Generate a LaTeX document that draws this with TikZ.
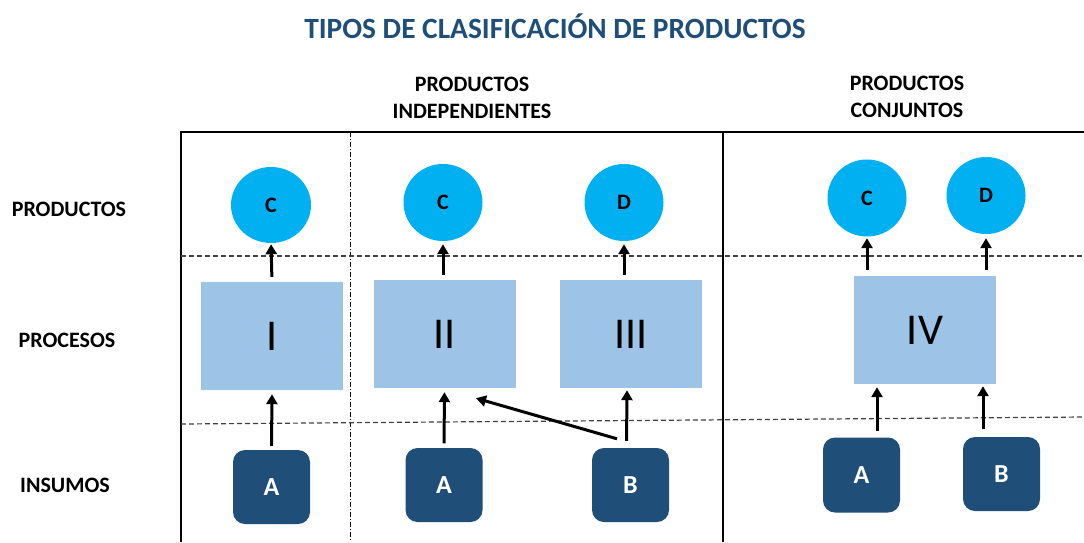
\documentclass[tikz,border=0pt]{standalone}
\usepackage{fontspec}
\setmainfont{Carlito}
\usetikzlibrary{arrows.meta,calc,shapes.geometric}
\definecolor{titleblue}{HTML}{1F4E79}
\definecolor{cyanC}{HTML}{00B0F0}
\definecolor{procB}{HTML}{9DC3E6}
\definecolor{insB}{HTML}{1F4E79}
\definecolor{gridgray}{HTML}{404040}
\begin{document}
\begin{tikzpicture}[x=1pt,y=-1pt,
  lbl/.style={inner sep=0pt, align=center, font=\fontsize{22}{27}\selectfont\bfseries},
  prod/.style={ellipse, fill=cyanC, minimum width=79pt, minimum height=77pt, inner sep=0pt, font=\fontsize{22}{24}\selectfont\bfseries},
  proc/.style={rectangle, fill=procB, minimum width=142pt, minimum height=108pt, inner sep=0pt, font=\fontsize{44}{50}\selectfont},
  ins/.style={rectangle, rounded corners=12pt, fill=insB, minimum width=77pt, minimum height=74pt, inner sep=0pt, text=white, font=\fontsize{26}{30}\selectfont\bfseries},
  arr/.style={line width=3pt, -{Triangle[width=11pt,length=10pt]}},
  frame/.style={line width=2pt, black},
  gridline/.style={line width=1.2pt, gridgray, dash pattern=on 5pt off 3pt},
  dashdotline/.style={line width=0.9pt, black, dash pattern=on 5pt off 2pt on 1pt off 2pt}
]
\useasboundingbox (0,0) rectangle (1084,542);

% title and headers
\node[inner sep=0pt, text=titleblue, font=\fontsize{29.4}{34}\selectfont\bfseries] (title) at (555,26) {TIPOS DE CLASIFICACIÓN DE PRODUCTOS};
\node[lbl] (hind) at (472,98) {PRODUCTOS\\INDEPENDIENTES};
\node[lbl] (hconj) at (907,97) {PRODUCTOS\\CONJUNTOS};
\node[lbl] (rprod) at (69,209) {PRODUCTOS};
\node[lbl] (rproc) at (67,340) {PROCESOS};
\node[lbl] (rins) at (65,485) {INSUMOS};

% grid
\draw[frame] (181,542) -- (181,132) -- (1084,132);
\draw[frame] (723,132) -- (723,542);
\draw[dashdotline] (350,132) -- (350,542);
\draw[gridline] (181,256) -- (1084,256);
\draw[gridline] (181,424) -- (1084,417);

% products
\node[prod, minimum width=80pt, minimum height=76pt] (C1) at (271,205) {C};
\node[prod] (C2) at (443,202.5) {C};
\node[prod] (D1) at (624,202.5) {D};
\node[prod] (C4) at (867,198) {C};
\node[prod] (D4) at (986,195.5) {D};

% processes
\node[proc] (P1) at (272,336) {I};
\node[proc] (P2) at (444.5,334) {II};
\node[proc] (P3) at (631,334) {III};
\node[proc] (P4) at (925,330) {IV};

% inputs
\node[ins] (A1) at (271.5,487) {A};
\node[ins] (A2) at (444,485) {A};
\node[ins] (B1) at (630.5,485) {B};
\node[ins, minimum height=75pt] (A4) at (861.5,475) {A};
\node[ins] (B4) at (1001.5,474) {B};

% arrows
\draw[arr, shorten <=4pt, shorten >=4pt] (A1.north) -- (P1.south);
\draw[arr, shorten <=5pt, shorten >=1pt] (P1.north) -- (C1.south);
\draw[arr, shorten <=4.5pt, shorten >=4pt] (A2.north) -- (P2.south);
\draw[arr, shorten <=5pt, shorten >=3pt] (P2.north -| C2.south) -- (C2.south);
\draw[arr, shorten <=7pt, shorten >=2pt] ([xshift=-4pt]B1.north) -- ([xshift=-4pt]P3.south);
\draw[arr, shorten <=5pt, shorten >=3pt] (P3.north -| D1.south) -- (D1.south);
\draw[arr] ([xshift=-13.5pt,yshift=9pt]B1.north) -- ([xshift=31.5pt,yshift=-10pt]P2.south);
\draw[arr, shorten <=6pt, shorten >=1.5pt] (P4.north -| C4.south) -- (C4.south);
\draw[arr, shorten <=6pt, shorten >=4pt] (P4.north -| D4.south) -- (D4.south);
\draw[arr, shorten <=6pt, shorten >=3pt] ([xshift=15.5pt]A4.north) -- ([xshift=15.5pt]A4.north |- P4.south);
\draw[arr, shorten <=8pt, shorten >=2pt] ([xshift=-18.5pt]B4.north) -- ([xshift=-18.5pt]B4.north |- P4.south);
\end{tikzpicture}
\end{document}
